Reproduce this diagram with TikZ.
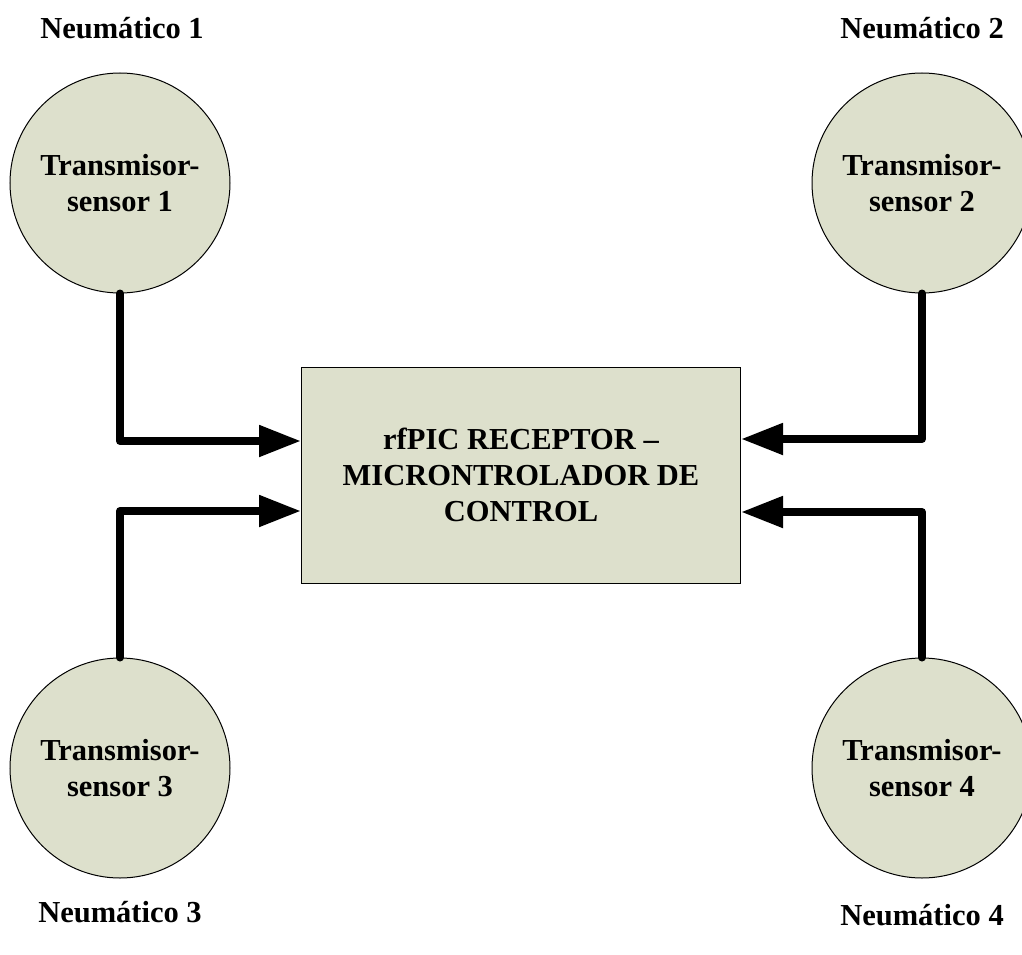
\documentclass[tikz,border=0pt]{standalone}
\usepackage{fontspec}
\setmainfont{Liberation Serif}
\usetikzlibrary{arrows.meta}
\definecolor{relleno}{RGB}{221,224,204}

\begin{document}
\begin{tikzpicture}[x=1pt, y=-1pt,
    font=\fontsize{30.5}{36}\selectfont\bfseries,
    sensor/.style={circle, draw, line width=1pt, fill=relleno, minimum size=220pt, inner sep=0pt, align=center},
    bloque/.style={rectangle, draw, line width=1pt, fill=relleno, minimum width=439pt, minimum height=216pt, align=center},
    flecha/.style={line width=8pt, line join=round, line cap=round, -{Triangle[length=42pt, width=30pt]}}]
    \useasboundingbox (0,0) rectangle (1022,955);
    \node[bloque] (rx) at (521,475) {rfPIC RECEPTOR –\\MICRONTROLADOR DE\\CONTROL};
    \node[sensor] (t1) at (120,183) {Transmisor-\\sensor 1};
    \node[sensor] (t2) at (922,183) {Transmisor-\\sensor 2};
    \node[sensor] (t3) at (120,768) {Transmisor-\\sensor 3};
    \node[sensor] (t4) at (922,768) {Transmisor-\\sensor 4};
    \node (n1) at (122,28) {Neumático 1};
    \node (n2) at (922,28) {Neumático 2};
    \node (n3) at (120,912) {Neumático 3};
    \node (n4) at (922,915) {Neumático 4};
    \draw[flecha] (t1.south) |- ([yshift=34pt]rx.west);
    \draw[flecha] (t3.north) |- ([yshift=-36pt]rx.west);
    \draw[flecha] (t2.south) |- ([yshift=36pt]rx.east);
    \draw[flecha] (t4.north) |- ([yshift=-37pt]rx.east);
\end{tikzpicture}
\end{document}
